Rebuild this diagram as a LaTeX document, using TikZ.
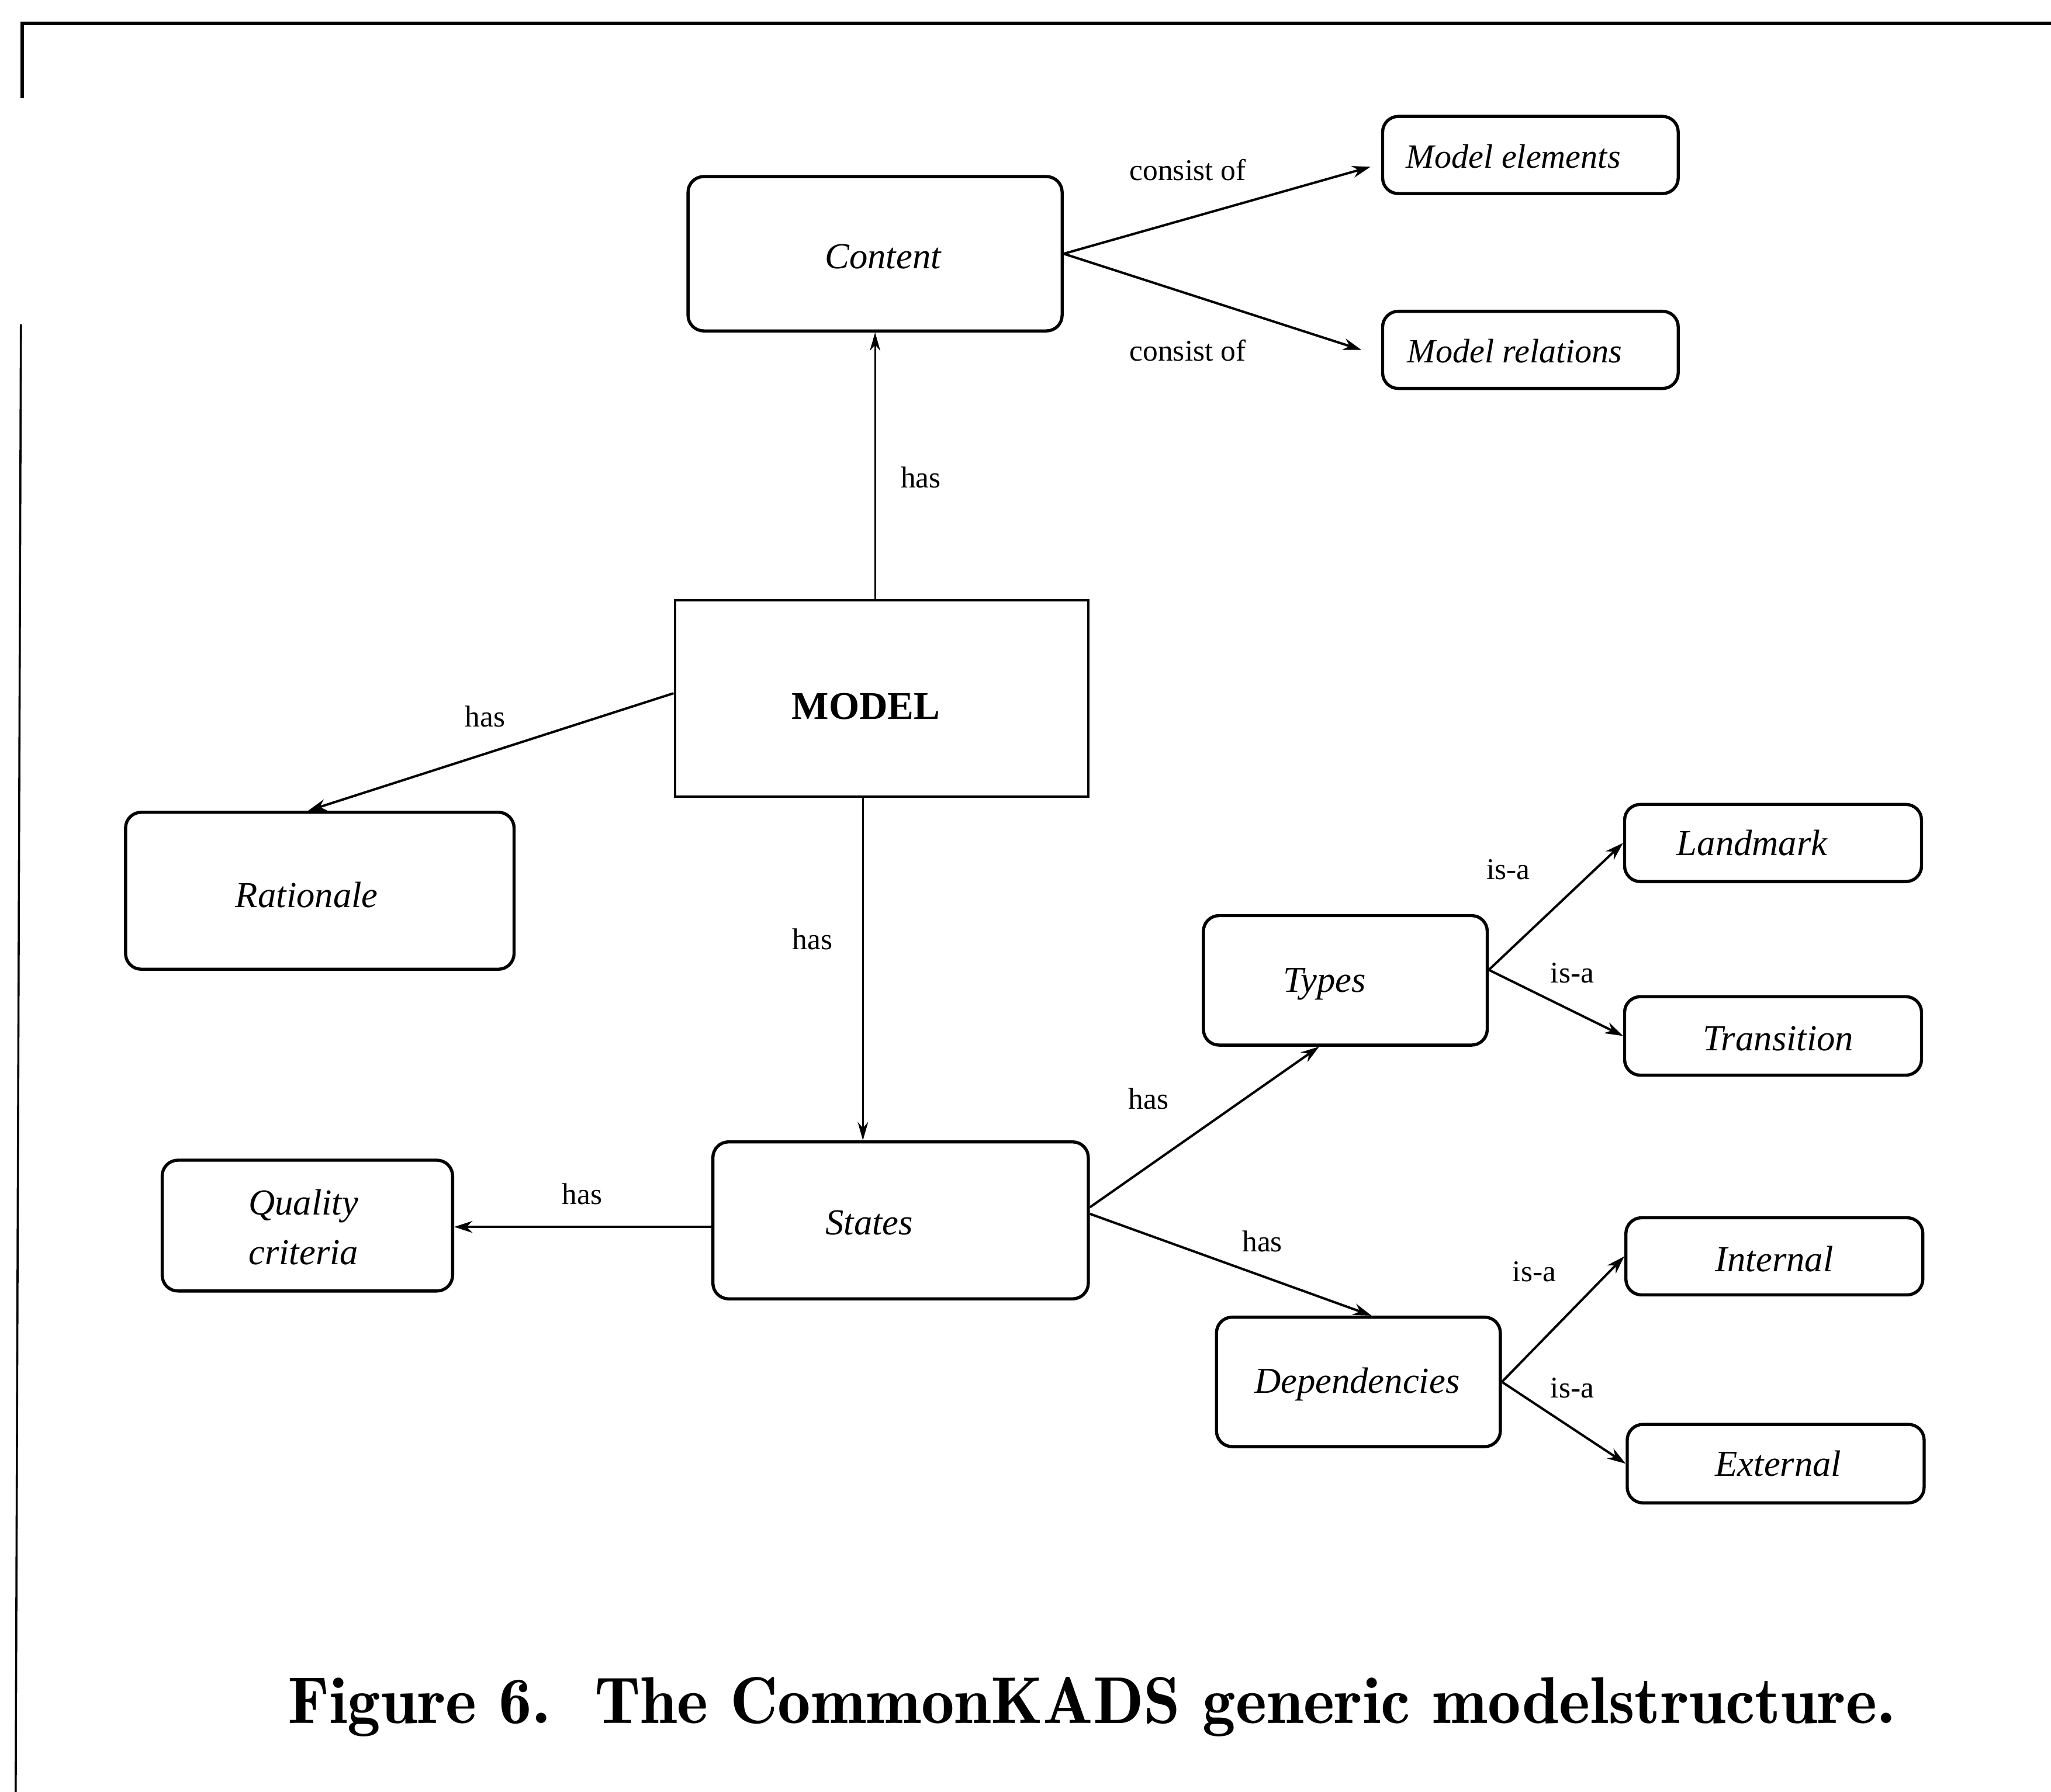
\documentclass[tikz,border=0pt]{standalone}
\usepackage{fontspec}
\setmainfont{Liberation Serif}
\usetikzlibrary{arrows.meta,calc}
\begin{document}
\begin{tikzpicture}[x=0.5pt,y=-0.5pt,
  box/.style 2 args={draw,line width=1.2pt,rounded corners=6pt,inner sep=0pt,
    minimum width=#1*0.5pt,minimum height=#2*0.5pt},
  mainbox/.style 2 args={draw,line width=1pt,inner sep=0pt,
    minimum width=#1*0.5pt,minimum height=#2*0.5pt},
  boxtext/.style={font=\fontsize{14}{19}\selectfont\itshape,align=center,inner sep=0pt},
  % text set inside a box, moved by (#2,#3) from its centre
  txt/.style n args={3}{label={[boxtext,xshift=#2*0.5pt,yshift=-#3*0.5pt]center:{#1}}},
  lbl/.style={font=\fontsize{11.5}{13}\selectfont,inner sep=0pt},
  arr/.style={line width=0.9pt,-{Stealth[length=7pt,width=4.5pt]}},
  thinarr/.style={line width=0.6pt,-{Stealth[length=7pt,width=4pt]}},
  frame/.style={line width=1.4pt}]
\useasboundingbox (0,0) rectangle (1568,1370);

% page frame
\draw[frame] (1568,18) -- (17,18) -- (17,75);
\draw[line width=0.8pt] (16,248) -- (12,1370);

% nodes
\node[box={286}{118},txt={Content}{6}{2}] (content) at (669,194) {};
\node[box={226}{59},txt={\fontsize{13}{15}\selectfont Model elements}{-13}{1}] (melem) at (1170,118.5) {};
\node[box={226}{59},txt={\fontsize{13}{15}\selectfont Model relations}{-12}{1}] (mrel) at (1170,267.5) {};
\node[mainbox={316}{150},label={[font=\fontsize{15}{18}\selectfont\bfseries,inner sep=0pt,xshift=-6pt,yshift=-3pt]center:MODEL}] (model) at (674,534) {};
\node[box={297}{120},txt={Rationale}{-10}{3}] (rationale) at (244.5,681) {};
\node[box={287}{120},txt={States}{-24}{2}] (states) at (688.5,933) {};
\node[box={222}{100},txt={Quality\\criteria\hspace{10pt}}{-3}{1}] (quality) at (235,937) {};
\node[box={217}{99},txt={Types}{-16}{3}] (types) at (1028.5,749.5) {};
\node[box={227}{59},txt={Landmark}{-16}{0}] (landmark) at (1355.5,644.5) {};
\node[box={227}{60},txt={Transition}{4}{2}] (transition) at (1355.5,792) {};
\node[box={217}{99},txt={Dependencies}{-1}{2}] (deps) at (1038.5,1056.5) {};
\node[box={227}{59},txt={Internal}{0}{2}] (internal) at (1356.5,960.5) {};
\node[box={227}{60},txt={External}{2}{0}] (external) at (1357.5,1119) {};

% connectors
\draw[thinarr] (model.north -| content.south) -- (content.south);
\draw[arr] (content.east) -- ($(melem.west)+(-8,9)$);
\draw[arr] (content.east) -- ($(mrel.west)+(-15,0)$);
\draw[arr] ($(model.west)+(0,-4)$) -- ($(rationale.north west)!0.47!(rationale.north east)$);
\coordinate (ms) at ($(model.south west)!0.455!(model.south east)$);
\draw[thinarr] (ms) -- (ms |- states.north);
\coordinate (sw) at ($(states.west)+(0,5)$);
\draw[arr] (sw) -- (sw -| quality.east);
\draw[arr] ($(states.east)+(0,-10)$) -- ($(types.south)+(-20,0)$);
\draw[arr] ($(states.east)+(0,-5)$) -- ($(deps.north)+(10,0)$);
\coordinate (tx) at ($(types.east)+(0,-8)$);
\draw[arr] (tx) -- (landmark.west);
\draw[arr] (tx) -- (transition.west);
\draw[arr] (deps.east) -- (internal.west);
\draw[arr] (deps.east) -- (external.west);

% connector labels
\node[lbl] (l1) at (908,130) {consist of};
\node[lbl] (l2) at (908,268) {consist of};
\node[lbl] (l3) at (704,365) {has};
\node[lbl] (l4) at (371,548) {has};
\node[lbl] (l5) at (621,718) {has};
\node[lbl] (l6) at (445,913) {has};
\node[lbl] (l7) at (878,840) {has};
\node[lbl] (l8) at (965,949) {has};
\node[lbl] (l9) at (1153,665) {is-a};
\node[lbl] (l10) at (1202,744) {is-a};
\node[lbl] (l11) at (1173,972) {is-a};
\node[lbl] (l12) at (1202,1061) {is-a};

% caption
\node[font=\fontfamily{lmr}\fontsize{25.3}{30}\selectfont\bfseries,inner sep=0pt] (caption)
  at (834.5,1305) {Figure 6.\ \ The CommonKADS generic modelstructure.};
\end{tikzpicture}
\end{document}
